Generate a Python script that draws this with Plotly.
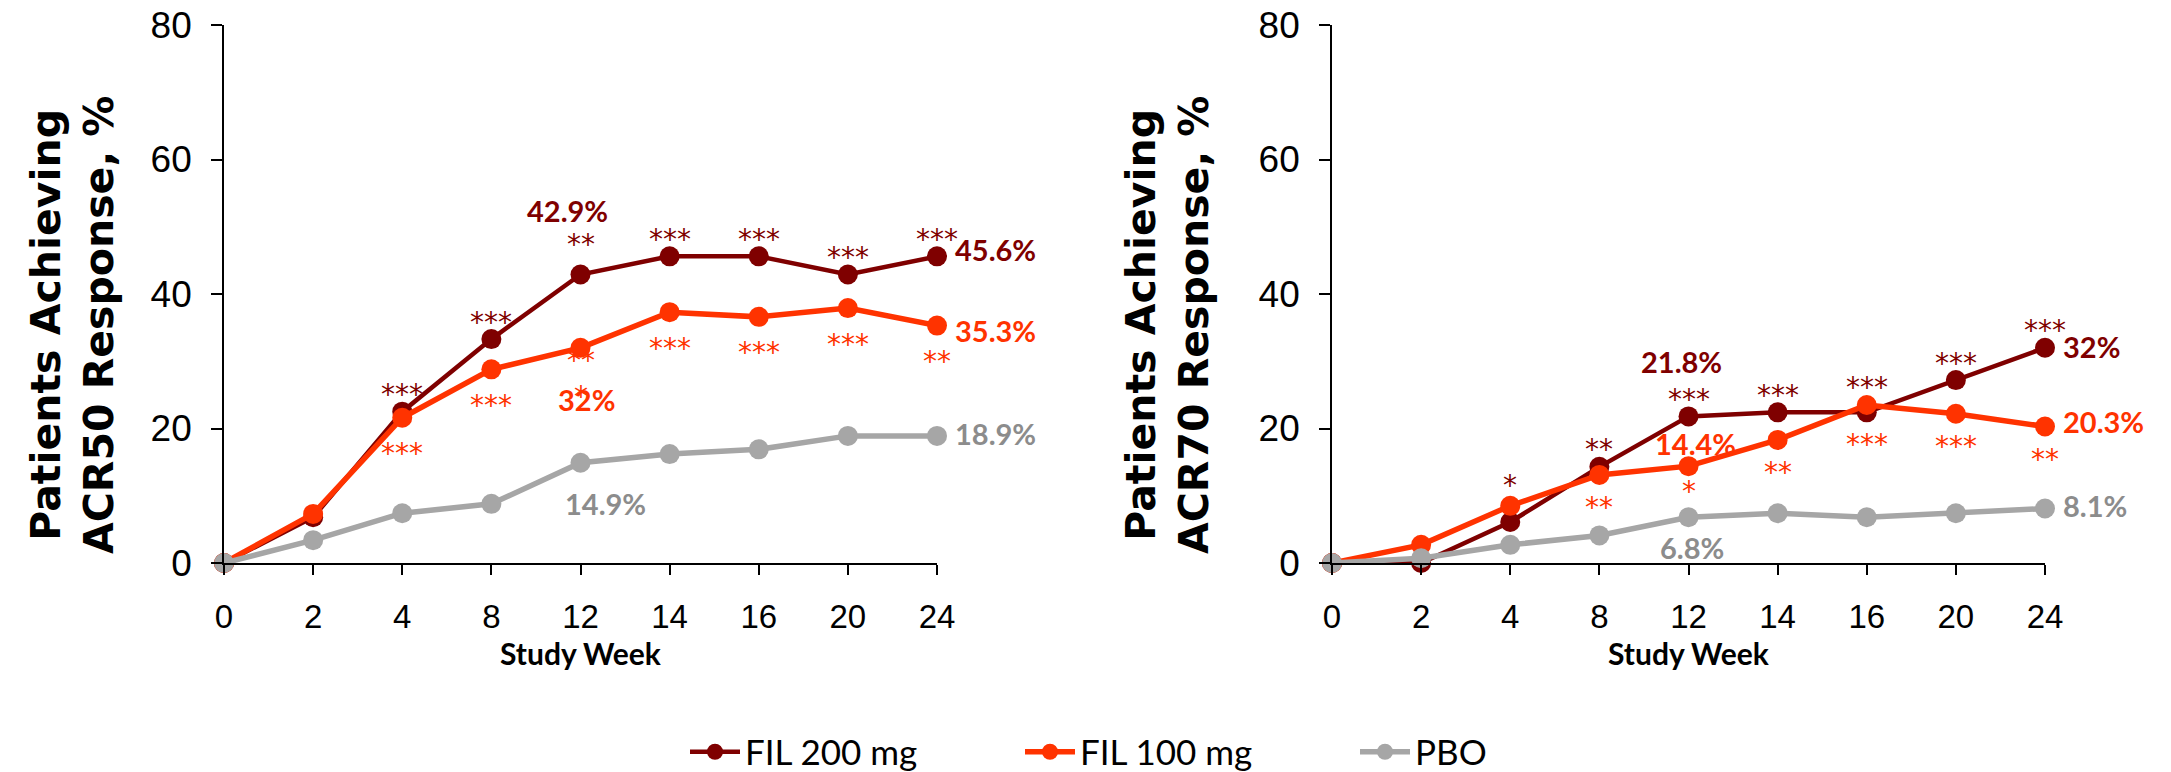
import plotly.graph_objects as go

# ---------------- data ----------------
weeks = ["0", "2", "4", "8", "12", "14", "16", "20", "24"]
series_names = ["FIL 200 mg", "FIL 100 mg", "PBO"]

acr50_fil200 = [0, 6.8, 22.5, 33.3, 42.9, 45.6, 45.6, 42.9, 45.6]
acr50_fil100 = [0, 7.3, 21.6, 28.8, 32.0, 37.3, 36.6, 37.9, 35.3]
acr50_pbo = [0, 3.4, 7.4, 8.8, 14.9, 16.2, 16.9, 18.9, 18.9]

acr70_fil200 = [0, 0, 6.1, 14.3, 21.8, 22.4, 22.4, 27.2, 32.0]
acr70_fil100 = [0, 2.7, 8.5, 13.1, 14.4, 18.3, 23.5, 22.2, 20.3]
acr70_pbo = [0, 0.7, 2.7, 4.1, 6.8, 7.4, 6.8, 7.4, 8.1]

acr50_fil200_sig = ["", "", "***", "***", "**", "***", "***", "***", "***"]
acr50_fil100_sig = ["", "", "***", "***", "**<br>*", "***", "***", "***", "**"]
acr70_fil200_sig = ["", "", "*", "**", "***", "***", "***", "***", "***"]
acr70_fil100_sig = ["", "", "", "**", "*", "**", "***", "***", "**"]

y_titles = ["Patients Achieving<br>ACR50 Response, %", "Patients Achieving<br>ACR70 Response, %"]
x_title = "Study Week"

# ---------------- style ----------------
W, H = 2171, 772
C200, C100, CPBO = "#7F0000", "#FF3300", "#A6A6A6"
CPBO_TXT = "#8C8C8C"
SANS = "Liberation Sans, Arial, sans-serif"
HUM = "Lato, Calibri, Carlito, sans-serif"
WIDE_BOLD = "DejaVu Sans, Verdana, sans-serif"
STAR_FONT = "DejaVu Sans, sans-serif"

panels = [
    dict(xa="x", ya="y", dom=[224 / W, 937 / W], title_x=73,
         vals=[acr50_fil200, acr50_fil100, acr50_pbo],
         sig=[acr50_fil200_sig, acr50_fil100_sig],
         star_up=23, star_dn=-30, star_over={(0, 4): 36, (1, 4): -25},
         mid_shift=[(-13, 64), (6, -52), (25, -41)], end_shift=[7, -5, 2]),
    dict(xa="x2", ya="y2", dom=[1332 / W, 2045 / W], title_x=1168,
         vals=[acr70_fil200, acr70_fil100, acr70_pbo],
         sig=[acr70_fil200_sig, acr70_fil100_sig],
         star_up=23, star_dn=-27, star_over={(0, 2): 42, (0, 6): 31, (1, 4): -19, (1, 6): -34},
         mid_shift=[(-7, 55), (7, 23), (3, -30)], end_shift=[1, 5, 3]),
]
colors = [C200, C100, CPBO]
widths = [4.5, 5.5, 5.5]
ydom = [1 - 563 / H, 1 - 25 / H]
STAR_RAISE = 6  # asterisks sit high in the text box

fig = go.Figure()
annotations = []

for p_i, p in enumerate(panels):
    for s_i, (name, vals) in enumerate(zip(series_names, p["vals"])):
        fig.add_trace(go.Scatter(
            x=weeks, y=vals, name=name, xaxis=p["xa"], yaxis=p["ya"],
            mode="lines+markers", cliponaxis=False,
            line=dict(color=colors[s_i], width=widths[s_i]),
            marker=dict(color=colors[s_i], size=20),
            showlegend=(p_i == 0), hoverinfo="skip",
        ))

    # significance stars
    for s_i, sig in enumerate(p["sig"]):
        for i, txt in enumerate(sig):
            if not txt:
                continue
            v = p["vals"][s_i][i]
            shift = p["star_over"].get((s_i, i), p["star_up"] if s_i == 0 else p["star_dn"])
            annotations.append(dict(
                x=i, y=v, xref=p["xa"], yref=p["ya"], text=txt, showarrow=False,
                xanchor="center", yanchor="middle", yshift=shift - STAR_RAISE,
                font=dict(family=STAR_FONT, size=28, color=colors[s_i]),
            ))

    # value labels at week 12 and at the end
    mid = weeks.index("12")
    last = len(weeks) - 1
    txtcol = [C200, C100, CPBO_TXT]
    for s_i in range(3):
        v = p["vals"][s_i][mid]
        annotations.append(dict(
            x=mid, y=v, xref=p["xa"], yref=p["ya"], text=f"{v:g}%", showarrow=False,
            xanchor="center", yanchor="middle",
            xshift=p["mid_shift"][s_i][0], yshift=p["mid_shift"][s_i][1],
            font=dict(family=HUM, size=29, color=txtcol[s_i], weight="bold"),
        ))
        v = p["vals"][s_i][last]
        annotations.append(dict(
            x=last, y=v, xref=p["xa"], yref=p["ya"], text=f"{v:g}%", showarrow=False,
            xanchor="left", yanchor="middle", xshift=16, yshift=p["end_shift"][s_i],
            font=dict(family=HUM, size=29, color=txtcol[s_i], weight="bold"),
        ))

    # y title
    annotations.append(dict(
        x=p["title_x"] / W, y=1 - 325 / H, xref="paper", yref="paper",
        xanchor="center", yanchor="middle",
        text=y_titles[p_i], textangle=-90, showarrow=False,
        font=dict(family=WIDE_BOLD, size=41, color="black", weight="bold"),
    ))
    # x title
    annotations.append(dict(
        x=(p["dom"][0] + p["dom"][1]) / 2, y=1 - 653 / H, xref="paper", yref="paper",
        xanchor="center", yanchor="middle",
        text=x_title, showarrow=False,
        font=dict(family=HUM, size=30, color="black", weight="bold"),
    ))

axis_common_x = dict(
    type="category", range=[0, len(weeks) - 1], showline=True, linecolor="black",
    linewidth=1.7, ticks="outside", ticklen=10, tickcolor="black", tickwidth=1.7,
    showgrid=False, zeroline=False, ticklabelstandoff=14, automargin=False,
    tickfont=dict(family=SANS, size=33, color="black"),
)
axis_common_y = dict(
    range=[0, 80], dtick=20, showline=True, linecolor="black", linewidth=1.7,
    ticks="outside", ticklen=11, tickcolor="black", tickwidth=1.7, showgrid=False,
    zeroline=False, ticklabelstandoff=12, automargin=False,
    tickfont=dict(family=SANS, size=37, color="black"),
)

fig.update_layout(
    width=W, height=H, margin=dict(l=0, r=0, t=0, b=0, autoexpand=False),
    plot_bgcolor="white", paper_bgcolor="white",
    xaxis=dict(domain=panels[0]["dom"], anchor="y", **axis_common_x),
    yaxis=dict(domain=ydom, anchor="x", **axis_common_y),
    xaxis2=dict(domain=panels[1]["dom"], anchor="y2", **axis_common_x),
    yaxis2=dict(domain=ydom, anchor="x2", **axis_common_y),
    annotations=annotations,
    legend=dict(orientation="h", x=685 / W, xanchor="left", y=1 - 752 / H, yanchor="middle",
                font=dict(family=HUM, size=35, color="black"), itemwidth=50,
                entrywidth=270, entrywidthmode="pixels", bgcolor="rgba(0,0,0,0)"),
    showlegend=True,
)

fig.write_html(
    "out.html",
    config={"displayModeBar": False},
    post_script="document.body.style.margin='0';document.body.style.overflow='hidden';",
)
